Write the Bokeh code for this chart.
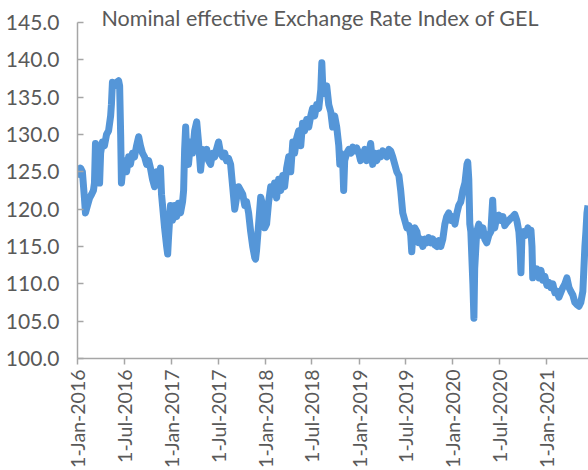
import math
import pandas as pd
from bokeh.plotting import figure
from bokeh.models import FixedTicker, DatetimeTickFormatter, Range1d, ColumnDataSource, NumeralTickFormatter
from bokeh.embed import file_html
from bokeh.resources import INLINE

title_text = "Nominal effective Exchange Rate Index of GEL"
start_date = "2016-01-01"
end_date = "2021-06-12"

day_offsets = [
    4, 12, 19, 27, 31, 39, 47, 55, 62, 66, 70, 74, 82, 86, 90, 97, 105, 113, 121, 129,
    132, 136, 144, 152, 160, 164, 168, 171, 175, 183, 191, 199, 206, 214, 222, 230, 238, 245, 253, 261,
    269, 277, 284, 292, 300, 308, 316, 323, 327, 331, 339, 347, 351, 354, 362, 370, 378, 386, 393, 401,
    409, 413, 417, 421, 425, 432, 440, 448, 456, 464, 471, 479, 487, 495, 503, 510, 518, 526, 534, 541,
    549, 557, 565, 573, 580, 588, 596, 604, 612, 619, 627, 635, 643, 651, 658, 666, 674, 682, 690, 693,
    697, 705, 713, 721, 729, 736, 744, 752, 760, 767, 775, 783, 791, 799, 806, 814, 822, 830, 838, 845,
    853, 861, 869, 876, 884, 892, 900, 908, 915, 923, 931, 939, 947, 951, 954, 962, 970, 978, 986, 993,
    1001, 1009, 1017, 1021, 1025, 1032, 1036, 1040, 1048, 1056, 1064, 1071, 1079, 1087, 1095, 1102, 1110, 1118, 1126, 1134,
    1141, 1149, 1157, 1165, 1173, 1180, 1188, 1196, 1204, 1212, 1219, 1227, 1235, 1243, 1251, 1258, 1266, 1274, 1282, 1290,
    1297, 1301, 1305, 1313, 1321, 1328, 1336, 1344, 1352, 1360, 1367, 1375, 1383, 1391, 1399, 1406, 1414, 1422, 1430, 1437,
    1445, 1453, 1461, 1469, 1477, 1484, 1492, 1500, 1508, 1516, 1519, 1523, 1527, 1531, 1539, 1543, 1546, 1554, 1562, 1570,
    1578, 1585, 1593, 1601, 1609, 1616, 1620, 1624, 1632, 1640, 1648, 1656, 1663, 1671, 1679, 1687, 1694, 1702, 1710, 1718,
    1722, 1726, 1730, 1737, 1745, 1753, 1761, 1765, 1769, 1772, 1780, 1788, 1796, 1804, 1811, 1819, 1827, 1835, 1842, 1850,
    1858, 1866, 1874, 1881, 1889, 1897, 1905, 1913, 1920, 1928, 1936, 1944, 1952, 1959, 1967, 1971, 1975, 1979, 1983, 1987,
]

neer_values = [
    124.2, 125.5, 125.0, 121.5, 119.5, 120.5, 121.5, 122.0, 122.5, 123.5, 128.8, 125.0, 128.0, 123.5, 127.5, 129.0, 128.5, 130.0, 130.5, 132.5,
    134.0, 137.0, 136.5, 137.0, 137.2, 136.5, 130.0, 123.5, 125.0, 126.5, 125.0, 127.0, 126.0, 127.5, 127.0, 128.5, 129.7, 128.5, 127.5, 127.0,
    126.0, 126.5, 125.5, 124.0, 123.0, 125.0, 124.0, 125.5, 122.0, 120.5, 117.5, 115.0, 114.0, 116.0, 120.5, 118.5, 120.5, 119.0, 120.8, 119.5,
    121.0, 122.5, 128.0, 131.0, 127.5, 126.0, 129.0, 127.5, 130.5, 131.7, 129.0, 125.2, 128.0, 127.5, 128.0, 126.5, 126.0, 127.5, 127.0, 128.0,
    129.0, 127.5, 127.0, 127.5, 126.5, 126.8, 126.0, 123.0, 120.0, 121.5, 123.0, 122.5, 122.0, 120.5, 121.0, 119.5, 117.0, 115.0, 113.5, 113.3,
    114.5, 118.0, 121.6, 120.5, 117.5, 118.0, 121.0, 123.0, 122.0, 123.5, 121.5, 124.0, 122.5, 124.5, 123.0, 125.5, 127.0, 125.0, 129.0, 127.5,
    129.5, 130.5, 128.5, 131.5, 130.5, 132.0, 131.0, 132.5, 133.5, 132.5, 134.0, 133.5, 136.0, 139.6, 137.0, 135.5, 136.5, 134.0, 133.0, 131.0,
    132.5, 131.0, 128.5, 126.0, 127.5, 126.5, 122.5, 126.5, 127.5, 128.0, 127.5, 128.3, 127.8, 128.2, 127.5, 126.5, 127.0, 128.0, 126.5, 127.5,
    128.8, 126.0, 127.5, 126.5, 127.5, 127.0, 127.8, 127.5, 127.0, 128.0, 127.8, 127.0, 126.0, 125.0, 124.5, 122.5, 119.5, 118.5, 117.5, 117.8,
    116.5, 114.3, 116.5, 117.5, 117.0, 115.5, 116.0, 115.0, 116.0, 115.5, 116.2, 115.5, 116.0, 115.2, 115.0, 115.8, 115.0, 116.0, 118.0, 119.0,
    119.5, 118.5, 119.0, 118.0, 119.5, 120.5, 121.0, 122.5, 123.5, 126.0, 126.3, 124.0, 118.0, 117.0, 110.0, 105.4, 112.0, 117.0, 118.0, 116.5,
    117.5, 116.0, 115.5, 116.5, 117.0, 121.2, 118.0, 117.5, 119.0, 119.2, 118.5, 119.0, 117.8, 118.2, 118.5, 118.8, 119.0, 119.3, 118.5, 117.0,
    115.0, 111.5, 116.5, 117.0, 116.5, 117.5, 116.5, 117.2, 115.0, 110.8, 111.5, 112.0, 110.8, 111.8, 110.5, 111.0, 109.8, 110.2, 109.5, 110.0,
    108.8, 109.0, 108.2, 108.8, 109.5, 110.0, 110.8, 109.5, 109.0, 108.5, 107.5, 107.2, 107.0, 107.5, 109.0, 112.0, 115.0, 117.0, 119.5, 120.5,
]

tick_dates = [
    "2016-01-01", "2016-07-01", "2017-01-01", "2017-07-01", "2018-01-01", "2018-07-01",
    "2019-01-01", "2019-07-01", "2020-01-01", "2020-07-01", "2021-01-01",
]
y_ticks = [100, 105, 110, 115, 120, 125, 130, 135, 140, 145]

dates = pd.Timestamp(start_date) + pd.to_timedelta(day_offsets, unit="D")
source = ColumnDataSource(dict(date=dates, value=neer_values))

FONT = "Lato"
TEXT_COL = "#595959"
AXIS_COL = "#A6A6A6"
LINE_COL = "#5596D8"

p = figure(
    width=588, height=470, x_axis_type="datetime",
    output_backend="svg", toolbar_location=None,
    x_range=Range1d(pd.Timestamp(start_date), pd.Timestamp(end_date)),
    y_range=Range1d(100, 145),
    min_border_left=77, min_border_right=0, min_border_top=22, min_border_bottom=106,
    title=title_text,
)
p.outline_line_color = None
p.xgrid.visible = False
p.ygrid.visible = False
p.background_fill_color = "white"
p.border_fill_color = "white"

p.title.align = "left"
p.title.offset = 24
p.title.standoff = -16
p.title.text_font = FONT
p.title.text_font_size = "21.5px"
p.title.text_font_style = "normal"
p.title.text_color = TEXT_COL

p.line("date", "value", source=source, line_color=LINE_COL, line_width=7, line_join="round")

tick_ms = [pd.Timestamp(d).value // 10**6 for d in tick_dates]
p.xaxis.ticker = FixedTicker(ticks=tick_ms)
fmt = "1-%b-%Y"
p.xaxis.formatter = DatetimeTickFormatter(
    milliseconds=fmt, seconds=fmt, minsec=fmt, minutes=fmt, hourmin=fmt, hours=fmt,
    days=fmt, months=fmt, years=fmt,
)
p.xaxis.major_label_orientation = math.pi / 2
p.xaxis.major_tick_out = 6
p.xaxis.major_tick_in = 0
p.xaxis.minor_tick_line_color = None
p.xaxis.major_label_standoff = 5
p.xaxis.major_label_text_font_size = "19.5px"

p.yaxis.ticker = FixedTicker(ticks=y_ticks)
p.yaxis.formatter = NumeralTickFormatter(format="0.0")
p.yaxis.major_tick_in = 6
p.yaxis.major_tick_out = 0
p.yaxis.minor_tick_line_color = None
p.yaxis.major_label_standoff = 18
p.yaxis.major_label_text_font_size = "21px"

for ax in (p.xaxis, p.yaxis):
    ax.axis_line_color = AXIS_COL
    ax.axis_line_width = 1.5
    ax.major_tick_line_color = AXIS_COL
    ax.major_tick_line_width = 1.5
    ax.major_label_text_font = FONT
    ax.major_label_text_color = TEXT_COL

open("out.html", "w").write(file_html(p, INLINE))
